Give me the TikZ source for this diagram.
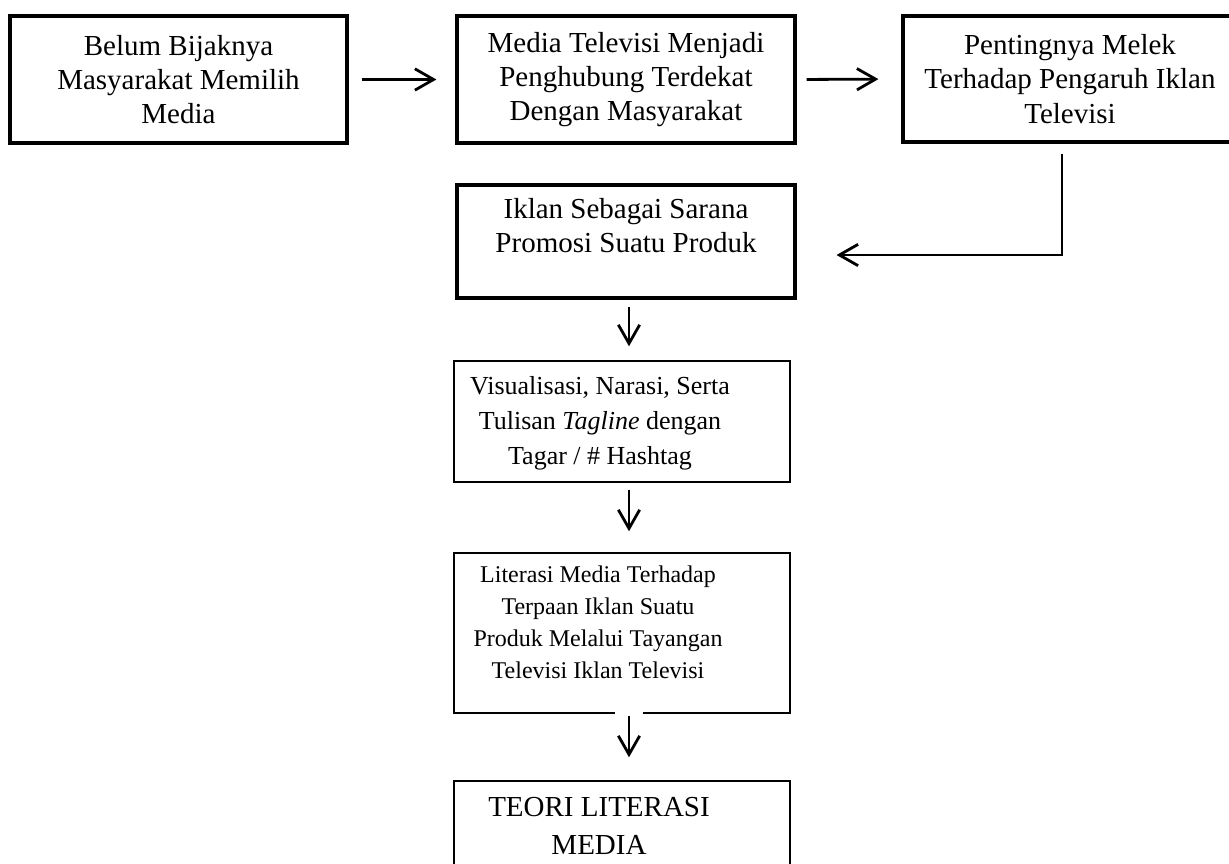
\documentclass[tikz,border=0pt]{standalone}
\usepackage{fontspec}
\setmainfont{Liberation Serif}
\usetikzlibrary{arrows.meta}

\begin{document}
\begin{tikzpicture}[x=0.75pt, y=-0.75pt,
    thickbox/.style={draw, line width=2.4pt, inner sep=0pt},
    thinbox/.style={draw, line width=1.1pt, inner sep=0pt},
    bigtext/.style={align=center, font=\fontsize{21.75pt}{25.6pt}\selectfont},
    midtext/.style={align=center, font=\fontsize{19.5pt}{26.25pt}\selectfont},
    smalltext/.style={align=center, font=\fontsize{18pt}{23.8pt}\selectfont},
    arr/.style={line width=2.1pt, -{Straight Barb[length=14pt,width=16pt]}}]
    \useasboundingbox (0,0) rectangle (1229,864);
    \clip (0,0) rectangle (1229,864);

    % top row
    \node[thickbox, bigtext, minimum width=252.75pt, minimum height=95.25pt] (belum) at (178.5,79.5) {Belum Bijaknya\\Masyarakat Memilih\\Media};
    \node[thickbox, bigtext, minimum width=253.5pt, minimum height=95.25pt] (media) at (626,79.5) {Media Televisi Menjadi\\Penghubung Terdekat\\Dengan Masyarakat};
    \node[thickbox, bigtext, minimum width=250.5pt, minimum height=94.5pt] (penting) at (1070,79) {Pentingnya Melek\\Terhadap Pengaruh Iklan\\Televisi};

    % column below
    \node[thickbox, minimum width=253.5pt, minimum height=84.75pt] (iklan) at (626,241.5) {};
    \node[bigtext] (iklantxt) at (626,225.5) {Iklan Sebagai Sarana\\Promosi Suatu Produk};

    \node[thinbox, minimum width=252pt, minimum height=90.75pt] (visual) at (622,421.5) {};
    \node[midtext] (visualtxt) at (600,422.8) {Visualisasi, Narasi, Serta\\Tulisan \textit{Tagline} dengan\\Tagar / \# Hashtag};

    \node[thinbox, minimum width=252pt, minimum height=120pt] (literasi) at (622,633) {};
    \node[smalltext] (literasitxt) at (598,622.3) {Literasi Media Terhadap\\Terpaan Iklan Suatu\\Produk Melalui Tayangan\\Televisi Iklan Televisi};

    \node[thinbox, minimum width=252pt, minimum height=82.5pt] (teori) at (622,836) {};
    \node[bigtext, font=\fontsize{21.75pt}{28.5pt}\selectfont] (teoritxt) at (599,826.4) {TEORI LITERASI\\MEDIA};

    % connectors
    \coordinate (col) at (629,0);
    \coordinate (bend) at (1062,255);
    \draw[arr, shorten <=9.75pt, shorten >=14.25pt] (belum.east) -- (media.west);
    \draw[arr, shorten <=7.5pt, shorten >=17.25pt] (media.east) -- (penting.west);
    \draw[arr, shorten <=7.5pt, shorten >=30pt] (penting.south -| bend) -- (bend) -- (bend -| iklan.east);
    \draw[arr, shorten <=5.25pt, shorten >=10.5pt] (iklan.south -| col) -- (visual.north -| col);
    \draw[arr, shorten <=5.25pt, shorten >=15.75pt] (visual.south -| col) -- (literasi.north -| col);
    \node[fill=white, inner sep=0pt, minimum width=21pt, minimum height=4pt] (gap) at (literasi.south -| col) {};
    \draw[arr, shorten <=1.5pt, shorten >=17.25pt] (gap.center) -- (teori.north -| col);
\end{tikzpicture}
\end{document}
